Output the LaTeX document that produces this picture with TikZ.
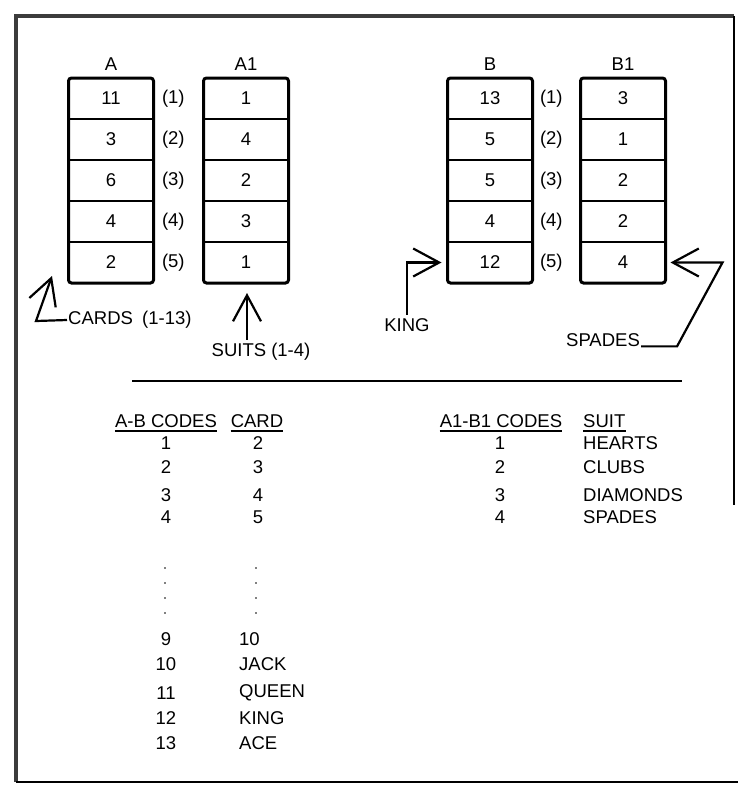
\documentclass[tikz,border=0pt]{standalone}
\usepackage{fontspec}
\setmainfont{Liberation Sans}
\usepackage{tikz}
\usetikzlibrary{positioning,arrows.meta,calc}
\usepackage{xcolor}
\definecolor{ScanGray}{RGB}{60,60,60}

\begin{document}
\begin{tikzpicture}[x=1pt, y=-1pt,
    every node/.style={font=\fontsize{18.5}{22}\selectfont},
    cell/.style={minimum width=85pt, minimum height=41pt, inner sep=0pt, outer sep=0pt},
    column/.style={draw, line width=3pt, rounded corners=3pt},
    divider/.style={line width=2.8pt},
    entry/.style={inner sep=0pt},
    uline/.style={line width=2.4pt},
    pointer/.style={line width=2.2pt,
                    -{Straight Barb[length=26pt, width=28pt, line width=2.2pt]}},
]
    \useasboundingbox (0,0) rectangle (738,785);
    % frame of the scanned page
    \draw[line width=4pt, ScanGray] (16,782) -- (16,16) -- (734,16);
    \draw[line width=1.5pt] (734,16) -- (734,505);
    \draw[line width=2pt] (16,782) -- (738,782);

    % the four code columns
    \foreach \val [count=\i] in {11,3,6,4,2}
        \node[cell] (a\i) at (111,{57.5+41*\i}) {\val};
    \foreach \val [count=\i] in {1,4,2,3,1}
        \node[cell] (aone\i) at (246,{57.5+41*\i}) {\val};
    \foreach \val [count=\i] in {13,5,5,4,12}
        \node[cell] (b\i) at (490,{57.5+41*\i}) {\val};
    \foreach \val [count=\i] in {3,1,2,2,4}
        \node[cell] (bone\i) at (623,{57.5+41*\i}) {\val};
    \foreach \c in {a,aone,b,bone} {
        \draw[column] (\c1.north west) rectangle (\c5.south east);
        \foreach \i in {1,...,4}
            \draw[divider] (\c\i.south west) -- (\c\i.south east);
    }
    \node[above=4pt of a1] (labA) {A};
    \node[above=4pt of aone1] (labAone) {A1};
    \node[above=4pt of b1] (labB) {B};
    \node[above=4pt of bone1] (labBone) {B1};
    \foreach \i in {1,...,5} {
        \node[right=5pt of a\i] (ia\i) {(\i)};
        \node[right=4pt of b\i] (ib\i) {(\i)};
    }

    % pointers
    \node[anchor=west, inner sep=1pt] (cards) at (67,320) {CARDS\hspace{0.5em}(1-13)};
    \coordinate (cardsbend) at (36,321);
    \coordinate (cardstip) at (52,276);
    \draw[pointer] (cards.west) -- (cardsbend) -- (cardstip);

    \node (suits) at (261,352) {SUITS (1-4)};
    \coordinate (suitstip) at (247,293);
    \draw[pointer] (suitstip |- suits.north) -- (suitstip);

    \node (king) at (407,325) {KING};
    \draw[pointer] (king.north) |- ([xshift=-6pt]b5.west);

    \node[inner sep=1pt] (spadeslabel) at (603,340) {SPADES};
    \draw[pointer] (spadeslabel.base east) -- ++(36,0)
        -- ([xshift=57pt]bone5.east) -- ([xshift=5pt]bone5.east);

    \draw[line width=2pt] (132,381) -- (682,381);

    % code tables
    \node[entry] (abh) at (166,421) {A-B CODES};
    \node[entry] (cardh) at (257,421) {CARD};
    \node[entry] (aonebh) at (501,421) {A1-B1 CODES};
    \node[entry, anchor=west] (suith) at (583,421) {SUIT};
    \foreach \h in {abh,cardh,aonebh,suith}
        \draw[uline] ([yshift=-3pt]\h.south west) -- ([yshift=-3pt]\h.south east);

    \foreach \code/\card/\y in {1/2/443, 2/3/467, 3/4/495, 4/5/517} {
        \node[entry] (code\code) at (166,\y) {\code};
        \node[entry] (card\code) at (258,\y) {\card};
    }
    \foreach \y in {568,583,598,613} {
        \fill (165,\y) circle (0.9);
        \fill (256,\y) circle (0.9);
    }
    \foreach \code/\card/\y in {9/10/639, 10/JACK/664, 11/QUEEN/693, 12/KING/718, 13/ACE/743} {
        \node[entry] (code\code) at (166,\y) {\code};
        \node[entry, anchor=west] (card\code) at (239,\y) {\card};
    }

    \foreach \code/\suit/\y in {1/HEARTS/443, 2/CLUBS/467, 3/DIAMONDS/495, 4/SPADES/517} {
        \node[entry] (scode\code) at (500,\y) {\code};
        \node[entry, anchor=west] (suit\code) at (583,\y) {\suit};
    }
\end{tikzpicture}
\end{document}
